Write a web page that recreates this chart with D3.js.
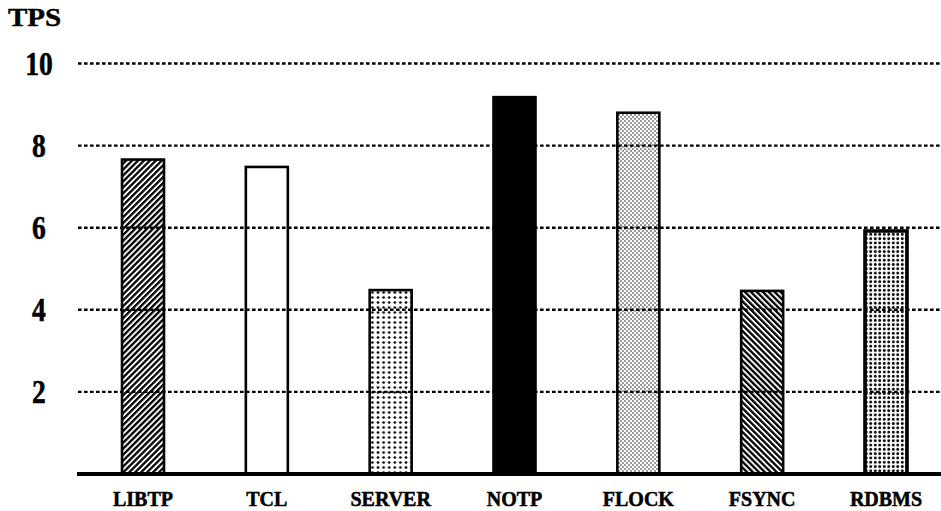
<!DOCTYPE html>
<html><head><meta charset="utf-8">
<script src="https://cdn.jsdelivr.net/npm/d3@7"></script>
<style>
html,body{margin:0;padding:0;background:#fff;}
svg{display:block;}
text{font-family:"Liberation Serif","Times New Roman",serif;font-weight:bold;fill:#000;stroke:#000;stroke-width:0.5px;}
</style></head>
<body>
<svg id="chart" width="941" height="511"></svg>
<script>
const categories = ["LIBTP","TCL","SERVER","NOTP","FLOCK","FSYNC","RDBMS"];
const tpsValues = [7.66, 7.48, 4.48, 9.18, 8.80, 4.46, 5.92];
const fillKinds = ["hatchR","white","dots","black","stipple","hatchL","dotsDense"];
const yTicks = [2,4,6,8,10];
const yTitle = "TPS";

const svg = d3.select("#chart");
const defs = svg.append("defs");

function pat(id, w, h, fn, rot){
  const p = defs.append("pattern").attr("id", id).attr("patternUnits","userSpaceOnUse")
    .attr("width", w).attr("height", h);
  if (rot !== undefined) p.attr("patternTransform", `rotate(${rot})`);
  p.append("rect").attr("width", w).attr("height", h).attr("fill","#fff");
  fn(p);
}
pat("hatchR", 4.2, 4.2, p => p.append("rect").attr("x",0).attr("y",0).attr("width",2.3).attr("height",4.2).attr("fill","#000"), 45);
pat("hatchL", 4.2, 4.2, p => p.append("rect").attr("x",0).attr("y",0).attr("width",2.3).attr("height",4.2).attr("fill","#000"), -45);
pat("dots", 5.6, 5, p => p.append("circle").attr("cx",2.8).attr("cy",2.5).attr("r",1.35).attr("fill","#000"));
pat("dotsDense", 4.5, 4.3, p => p.append("circle").attr("cx",2.25).attr("cy",2.15).attr("r",1.45).attr("fill","#000"));
pat("stipple", 4, 4, p => {
  p.append("circle").attr("cx",1).attr("cy",1).attr("r",0.75).attr("fill","#000");
  p.append("circle").attr("cx",3).attr("cy",3).attr("r",0.75).attr("fill","#000");
});
const fillFor = k => k === "white" ? "#fff" : k === "black" ? "#000" : `url(#${k})`;

const step = 123.83;
const x = d3.scaleBand().domain(categories)
  .range([143 - step/2, 886 + step/2]).paddingInner(0.661).paddingOuter(0.3305);
const y = d3.scaleLinear().domain([0,10]).range([474, 63.5]);

const data = categories.map((c,i) => ({c, v: tpsValues[i], k: fillKinds[i]}));

svg.append("g").selectAll("rect").data(data).join("rect")
  .attr("x", d => x(d.c))
  .attr("y", d => y(d.v))
  .attr("width", x.bandwidth())
  .attr("height", d => y(0) - y(d.v))
  .attr("fill", d => fillFor(d.k))
  .attr("stroke", "#000")
  .attr("stroke-width", d => d.k === "dotsDense" ? 3.6 : 2.6);

svg.append("g").selectAll("line").data(yTicks).join("line")
  .attr("x1", 78).attr("x2", 941)
  .attr("y1", d => y(d)).attr("y2", d => y(d))
  .attr("stroke", "#000").attr("stroke-width", 2.4)
  .attr("stroke-dasharray", "3.6,2.4");

svg.append("line").attr("x1", 77).attr("x2", 941).attr("y1", y(0)).attr("y2", y(0))
  .attr("stroke","#000").attr("stroke-width", 4);

svg.append("g").selectAll("text").data(yTicks).join("text")
  .attr("transform", d => `translate(39,${y(d) + 11}) scale(0.92,1.1)`)
  .attr("text-anchor","middle")
  .style("font-size","30px")
  .text(d => d);

svg.append("text").attr("transform","translate(8,26) scale(1,0.9)")
  .style("font-size","29px").text(yTitle);

svg.append("g").selectAll("text").data(categories).join("text")
  .attr("transform", d => `translate(${x(d) + x.bandwidth()/2},506)`)
  .attr("text-anchor","middle")
  .style("font-size","20px")
  .text(d => d);
</script>
</body></html>
